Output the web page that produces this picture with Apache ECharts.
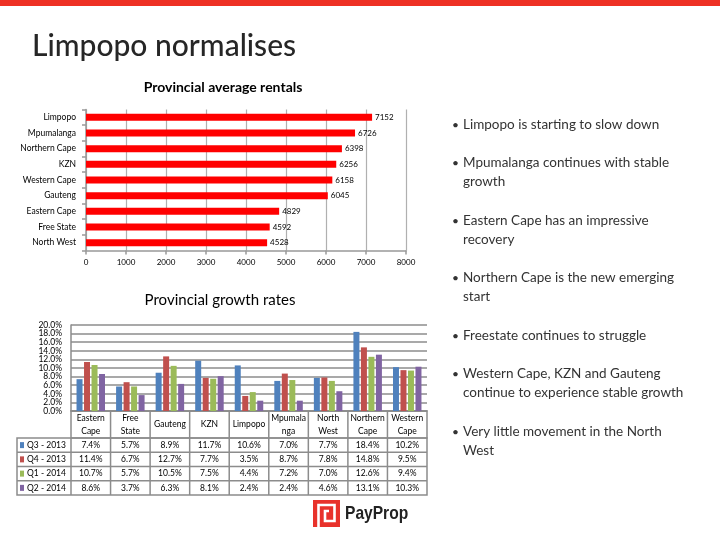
<!DOCTYPE html>
<html><head><meta charset="utf-8">
<script src="https://cdn.jsdelivr.net/npm/echarts@6/dist/echarts.min.js"></script>
<style>html,body{margin:0;padding:0;background:#fff}#c{width:720px;height:540px}</style>
</head><body><div id="c"></div>
<script>
// ---- data ----
const rentalCategories = ['Limpopo','Mpumalanga','Northern Cape','KZN','Western Cape','Gauteng','Eastern Cape','Free State','North West'];
const rentalValues = [7152,6726,6398,6256,6158,6045,4829,4592,4528];

const growthCategories = ['Eastern Cape','Free State','Gauteng','KZN','Limpopo','Mpumalanga','North West','Northern Cape','Western Cape'];
const growthHeaderLabels = ['Eastern\nCape','Free\nState','Gauteng','KZN','Limpopo','Mpumala\nnga','North\nWest','Northern\nCape','Western\nCape'];
const quarters = ['Q3 - 2013','Q4 - 2013','Q1 - 2014','Q2 - 2014'];
const q3_2013 = [7.4,5.7,8.9,11.7,10.6,7.0,7.7,18.4,10.2];
const q4_2013 = [11.4,6.7,12.7,7.7,3.5,8.7,7.8,14.8,9.5];
const q1_2014 = [10.7,5.7,10.5,7.5,4.4,7.2,7.0,12.6,9.4];
const q2_2014 = [8.6,3.7,6.3,8.1,2.4,2.4,4.6,13.1,10.3];
const growthSeries = [q3_2013,q4_2013,q1_2014,q2_2014];

const bullets = [
  'Limpopo is starting to slow down',
  'Mpumalanga continues with stable\ngrowth',
  'Eastern Cape has an impressive\nrecovery',
  'Northern Cape is the new emerging\nstart',
  'Freestate continues to struggle',
  'Western Cape, KZN and Gauteng\ncontinue to experience stable growth',
  'Very little movement in the North\nWest'
];

// ---- style ----
const FONT = 'Lato';
const seriesColors = ['#4F81BD','#C0504D','#9BBB59','#8064A2'];
const gridGray = '#8c8c8c';

const chart = echarts.init(document.getElementById('c'));

const G0 = {left:86, top:109.5, width:320, height:141};
const G1 = {left:71, top:325, width:356, height:86};
const pctLabel = {fontSize:8.5, color:'#000', margin:9, fontFamily:FONT, formatter:v=>v.toFixed(1)+'%'};

chart.setOption({
  animation:false,
  backgroundColor:'#fff',
  textStyle:{fontFamily:FONT},
  grid:[
    Object.assign({containLabel:false}, G0),
    Object.assign({containLabel:false}, G1)
  ],
  xAxis:[
    {gridIndex:0, type:'value', min:0, max:8000, interval:1000,
      axisLine:{show:true, lineStyle:{color:'#999', width:1.5}},
      axisTick:{show:true, length:4, lineStyle:{color:'#999', width:1.5}},
      splitLine:{show:true, lineStyle:{color:'#b0b0b0', width:1.2}},
      axisLabel:{fontSize:8, color:'#000', margin:8, fontFamily:FONT, formatter:v=>String(v)}},
    {gridIndex:1, type:'category', data:growthCategories,
      axisLine:{show:true, lineStyle:{color:gridGray, width:1.5}},
      axisTick:{show:false},
      axisLabel:{interval:0, fontSize:8.5, color:'#000', lineHeight:13, verticalAlign:'middle', margin:13.5,
        fontFamily:FONT, formatter:(v,i)=>growthHeaderLabels[i]}}
  ],
  yAxis:[
    {gridIndex:0, type:'category', inverse:true, data:rentalCategories,
      axisLine:{show:true, lineStyle:{color:'#999', width:1.5}},
      axisTick:{show:true, length:4, lineStyle:{color:'#999', width:1.5}},
      axisLabel:{fontSize:8.5, color:'#000', margin:10, fontFamily:FONT}},
    {gridIndex:1, type:'value', min:0, max:20, interval:2, position:'left', offset:0,
      axisLine:{show:true, lineStyle:{color:gridGray, width:1.5}},
      axisTick:{show:false},
      splitLine:{show:true, lineStyle:{color:gridGray, width:1.5}},
      axisLabel:Object.assign({showMinLabel:false, showMaxLabel:false}, pctLabel)},
    {gridIndex:1, type:'value', min:0, max:20, interval:20, position:'left', offset:0,
      axisLine:{show:false}, axisTick:{show:false}, splitLine:{show:false},
      axisLabel:Object.assign({showMinLabel:true, showMaxLabel:true}, pctLabel)}
  ],
  series:[
    {type:'bar', xAxisIndex:0, yAxisIndex:0, data:rentalValues, barWidth:7,
      itemStyle:{color:'#FF0000'},
      label:{show:true, position:'right', distance:3, fontSize:8, color:'#000', fontFamily:FONT}},
    ...growthSeries.map((d,k)=>({
      type:'bar', name:quarters[k], xAxisIndex:1, yAxisIndex:1, data:d,
      barWidth:6, barGap:'25%', itemStyle:{color:seriesColors[k]}
    }))
  ]
});

// ---- graphics: titles, table, bullets, logo ----
const g = [];
g.push({type:'rect', shape:{x:0,y:0,width:720,height:6}, style:{fill:'#EE3124'}});
g.push({type:'text', x:32, y:46, style:{text:'Limpopo normalises', font:'500 30px '+FONT, fill:'#262626', verticalAlign:'middle'}});
g.push({type:'text', x:223, y:87, style:{text:'Provincial average rentals', font:'bold 14px '+FONT, fill:'#000', align:'center', verticalAlign:'middle'}});
g.push({type:'text', x:220, y:300, style:{text:'Provincial growth rates', font:'normal 15px '+FONT, fill:'#000', align:'center', verticalAlign:'middle'}});

// table
const colW = G1.width / growthCategories.length;
const headTop = G1.top + G1.height, headBot = 438, rowH = 14.25, legLeft = 17;
const tableBot = headBot + rowH * quarters.length;
const lineStyle = {stroke:gridGray, lineWidth:1.5};
g.push({type:'rect', shape:{x:G1.left, y:headTop, width:G1.width, height:headBot-headTop}, style:Object.assign({fill:'none'}, lineStyle)});
g.push({type:'rect', shape:{x:legLeft, y:headBot, width:G1.left+G1.width-legLeft, height:tableBot-headBot}, style:Object.assign({fill:'none'}, lineStyle)});
for (let i=1;i<growthCategories.length;i++){
  const x = G1.left + i*colW;
  g.push({type:'line', shape:{x1:x,y1:headTop,x2:x,y2:tableBot}, style:lineStyle});
}
g.push({type:'line', shape:{x1:G1.left,y1:headBot,x2:G1.left,y2:tableBot}, style:lineStyle});
for (let r=1;r<quarters.length;r++){
  const y = headBot + r*rowH;
  g.push({type:'line', shape:{x1:legLeft,y1:y,x2:G1.left+G1.width,y2:y}, style:lineStyle});
}
quarters.forEach((q,r)=>{
  const cy = headBot + (r+0.5)*rowH;
  g.push({type:'rect', shape:{x:20, y:cy-3, width:4, height:6}, style:{fill:seriesColors[r]}});
  g.push({type:'text', x:27, y:cy, style:{text:q, font:'8.5px '+FONT, fill:'#000', verticalAlign:'middle'}});
  growthSeries[r].forEach((v,i)=>{
    const px = chart.convertToPixel({xAxisIndex:1}, i);
    g.push({type:'text', x:px, y:cy, style:{text:v.toFixed(1)+'%', font:'8.5px '+FONT, fill:'#000', align:'center', verticalAlign:'middle'}});
  });
});

// bullets
const bulletY = [125,163,221,278,336,374,432];
bullets.forEach((b,i)=>{
  g.push({type:'text', x:452, y:bulletY[i], style:{text:'•', font:'12px '+FONT, fill:'#333', verticalAlign:'middle'}});
  g.push({type:'text', x:463, y:bulletY[i]-9.5, style:{text:b, font:'13.5px '+FONT, fill:'#333', lineHeight:19, verticalAlign:'top'}});
});

// logo
g.push({type:'rect', shape:{x:313,y:500,width:27,height:27}, style:{fill:'#E8322B'}});
g.push({type:'polyline', shape:{points:[[318.5,527],[318.5,505],[334.5,505],[334.5,521],[325,521],[325,511],[329,511]]}, style:{stroke:'#fff', lineWidth:2.6, fill:'none'}});
g.push({type:'text', x:345, y:514, scaleX:0.82,
  style:{text:'PayProp', font:'bold 19px "Liberation Sans", sans-serif', fill:'#222', verticalAlign:'middle'}});

chart.setOption({graphic:g});
</script></body></html>
